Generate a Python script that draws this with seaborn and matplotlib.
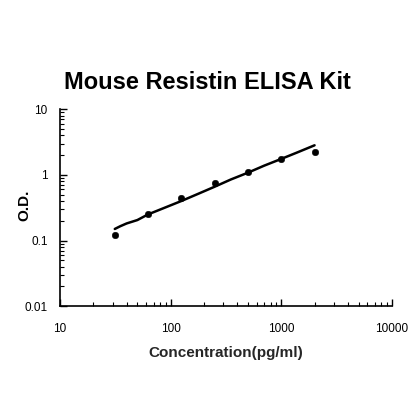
import numpy as np
import pandas as pd
import seaborn as sns
import matplotlib
matplotlib.use("Agg")
import matplotlib.pyplot as plt
from matplotlib.ticker import LogLocator, NullFormatter, FixedLocator, FixedFormatter

# standard points (pg/ml) and measured O.D.
conc = [31.25, 62.5, 125, 250, 500, 1000, 2000]
od = [0.123, 0.25, 0.445, 0.757, 1.12, 1.75, 2.25]

# fitted curve
fit_conc = [31.25, 35, 40, 50, 62.5, 90, 125, 180, 250, 350, 500, 700, 1000, 1400, 2000]
fit_od = [0.150, 0.165, 0.182, 0.205, 0.250, 0.320, 0.400, 0.520, 0.660, 0.850, 1.08, 1.38, 1.75, 2.20, 2.82]

x_ticks = [10, 100, 1000, 10000]
y_ticks = [0.01, 0.1, 1, 10]

sns.set_style("ticks")
plt.rcParams['font.family'] = ['Liberation Sans', 'DejaVu Sans']
plt.rcParams['text.color'] = 'black'
plt.rcParams['xtick.color'] = 'black'
plt.rcParams['ytick.color'] = 'black'
plt.rcParams['axes.edgecolor'] = 'black'

df_pts = pd.DataFrame({"conc": conc, "od": od})
df_fit = pd.DataFrame({"conc": fit_conc, "od": fit_od})

fig = plt.figure(figsize=(4.2, 4.2), dpi=100)
ax = fig.add_axes([0.143, 0.271, 0.79, 0.469])

sns.lineplot(data=df_fit, x="conc", y="od", ax=ax, color="black", linewidth=1.8)
sns.scatterplot(data=df_pts, x="conc", y="od", ax=ax, color="black", s=22, edgecolor="black", zorder=3)

ax.set_xscale("log")
ax.set_yscale("log")
ax.set_xlim(10, 10000)
ax.set_ylim(0.01, 10)

ax.xaxis.set_major_locator(FixedLocator(x_ticks))
ax.xaxis.set_major_formatter(FixedFormatter([str(v) for v in x_ticks]))
ax.yaxis.set_major_locator(FixedLocator(y_ticks))
ax.yaxis.set_major_formatter(FixedFormatter([str(v) for v in y_ticks]))
ax.xaxis.set_minor_locator(LogLocator(base=10, subs=np.arange(2, 10)))
ax.yaxis.set_minor_locator(LogLocator(base=10, subs=np.arange(2, 10)))
ax.xaxis.set_minor_formatter(NullFormatter())
ax.yaxis.set_minor_formatter(NullFormatter())

ax.tick_params(which="major", direction="in", length=5, width=1, labelsize=8.5, pad=12)
ax.tick_params(which="minor", direction="in", length=3, width=0.8)
ax.tick_params(axis="y", pad=9)

for side in ["top", "right"]:
    ax.spines[side].set_visible(False)
for side in ["left", "bottom"]:
    ax.spines[side].set_linewidth(1.2)

ax.set_xlabel("Concentration(pg/ml)", fontsize=11, fontweight="bold", labelpad=8)
ax.set_ylabel("")
fig.text(0.057, 0.51, "O.D.", rotation=90, ha="center", va="center",
         fontsize=11, fontweight="bold", family="Liberation Sans")
fig.suptitle("Mouse Resistin ELISA Kit", x=0.495, y=0.83, fontsize=17, fontweight="bold")

fig.savefig("out.png", dpi=100)
